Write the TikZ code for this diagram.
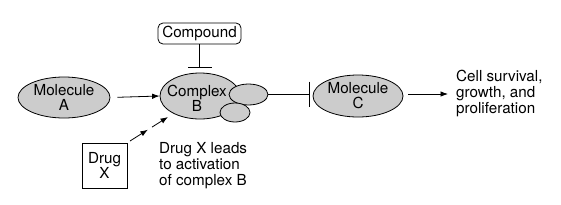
\documentclass[tikz,border=0pt]{standalone}
\usepackage{fontspec}
\setmainfont{TeX Gyre Heros}
\usetikzlibrary{shapes.geometric,arrows.meta,calc}
\begin{document}
\begin{tikzpicture}[x=1pt,y=-1pt,
  every node/.style={font=\fontsize{15.2}{16}\selectfont},
  blob/.style={ellipse,draw=black,fill=gray!40,line width=0.8pt,inner sep=0pt},
  lbl/.style={align=center,inner sep=0pt},
  box/.style={draw=black,line width=0.8pt,inner sep=0pt},
  txt/.style={align=left,inner sep=0pt,anchor=west},
  arr/.style={line width=0.8pt,-{Latex[length=7.5pt,width=5.5pt]}},
  inh/.style={line width=0.8pt}]
\useasboundingbox (0,0) rectangle (561,204);
% Molecule A
\node[blob,minimum width=92pt,minimum height=41pt,align=center] (A) at (64,97.5) {Molecule\\[-1pt]A};
% Complex B
\node[blob,minimum width=80pt,minimum height=46pt] (B) at (200,96) {};
\node[blob,minimum width=39pt,minimum height=21pt] (s1) at (248.5,94.5) {};
\node[blob,minimum width=30pt,minimum height=19pt] (s2) at (235,112.5) {};
\node[lbl] (Bl) at (197,98) {Complex\\[-1pt]B};
% Compound
\node[box,rounded corners=5pt,minimum width=83pt,minimum height=21pt] (cmp) at (199.5,33.5) {Compound};
\coordinate (cbar) at (199.5,68);
\draw[inh,-{Bar[width=24pt,line width=0.8pt]}] (cmp.south) -- (cbar);
% Molecule C
\node[blob,minimum width=90pt,minimum height=42pt,align=center] (C) at (358,96) {Molecule\\[-1pt]C};
\coordinate (cb) at (310,94);
\draw[inh,-{Bar[width=25pt,line width=0.8pt]}] (s1.east |- cb) -- (cb);
% Outcome
\node[txt] (out) at (456,93.5) {Cell survival,\\growth, and\\proliferation};
\coordinate (c1) at (408,94);
\draw[arr] (c1) -- ([xshift=-8pt]c1 -| out.west);
% Drug X
\node[box,minimum width=45pt,minimum height=45pt,align=center] (D) at (104.5,165.5) {Drug\\[-1pt]X};
\node[txt] (dtxt) at (159,165.5) {Drug X leads\\to activation\\of complex B};
% A -> B
\draw[arr,shorten <=7pt] (A.east) -- (B.west);
% dashed activation arrow
\coordinate (d0) at (130,141);
\coordinate (d1) at (168,117);
\draw[arr] (d0) -- ($(d0)!0.47!(d1)$);
\draw[arr] ($(d0)!0.58!(d1)$) -- (d1);
\end{tikzpicture}
\end{document}
